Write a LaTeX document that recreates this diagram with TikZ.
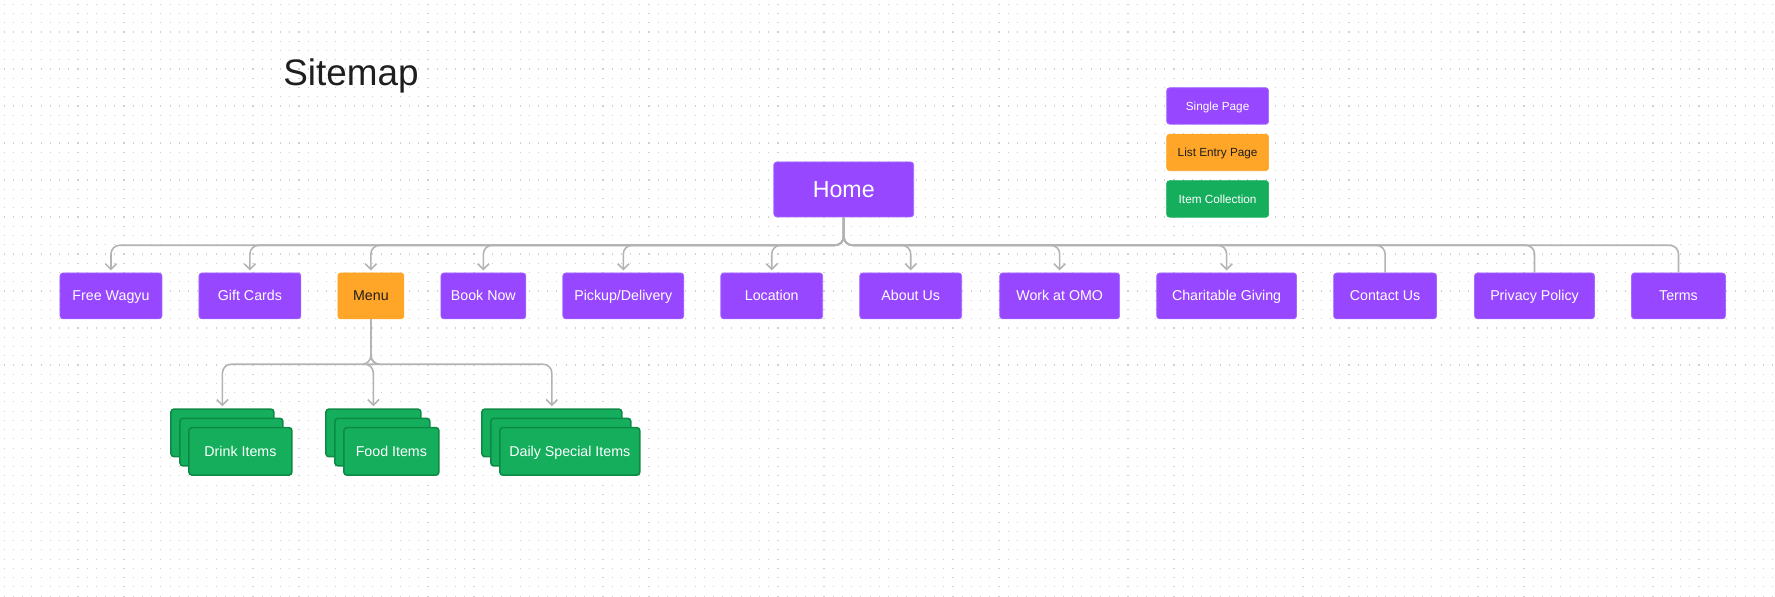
\documentclass[tikz,border=0pt]{standalone}
\usepackage{fontspec}
\setmainfont{Liberation Sans}
\usetikzlibrary{arrows.meta}
\definecolor{pagepurple}{HTML}{9747FF}
\definecolor{pageborder}{HTML}{A56AFF}
\definecolor{listorange}{HTML}{FFA629}
\definecolor{itemgreen}{HTML}{14AE5C}
\definecolor{itemborder}{HTML}{0D8A45}
\definecolor{wire}{HTML}{B3B3B3}
\definecolor{ink}{HTML}{1E1E1E}
\definecolor{griddot}{HTML}{D0D0D0}

\begin{document}
\begin{tikzpicture}[x=0.02cm,y=-0.02cm,
  box/.style={rectangle, rounded corners=1.7pt, inner sep=0pt, minimum height=0.92cm,
    font=\fontsize{8.1}{9.7}\selectfont, text height=5.8pt, text depth=0pt},
  single/.style={box, fill=pagepurple, draw=pageborder, line width=0.4pt, text=white},
  listentry/.style={box, fill=listorange, draw=listorange, line width=0.4pt, text=ink},
  item/.style={box, fill=itemgreen, draw=itemborder, line width=0.9pt, text=white,
    minimum height=0.95cm},
  legend/.style={minimum width=2.04cm, minimum height=0.73cm,
    font=\fontsize{6.7}{8}\selectfont, text height=4.8pt},
  rootbox/.style={single, minimum width=2.8cm, minimum height=1.1cm,
    font=\fontsize{13.2}{15}\selectfont, text height=9.45pt},
  wirepath/.style={draw=wire, line width=0.9pt, rounded corners=5pt},
  arrowed/.style={wirepath, -{Straight Barb[length=3.2pt,width=6.4pt]}, shorten >=1.2pt},
  dotrow/.style={draw=griddot, line width=0.65pt, dash pattern=on 0.62pt off 4.624pt}
]
% canvas with dotted grid
\fill[white] (0,0) rectangle (1775,597);
\foreach \r in {0,...,64}
  \draw[dotrow] (3.75,{4.3+9.25*\r}) -- (1775,{4.3+9.25*\r});
\useasboundingbox (0,0) rectangle (1775,597);

% title
\node[anchor=base west, inner sep=0pt, text=ink, font=\fontsize{21}{25}\selectfont]
  (title) at (283,86) {Sitemap};

% legend
\node[single, legend] (lsingle) at (1218,106) {Single Page};
\node[listentry, legend] (llist) at (1218,152.5) {List Entry Page};
\node[item, legend, draw=itemgreen, line width=0.4pt] (litem) at (1218,199) {Item Collection};

% root
\node[rootbox] (home) at (844,189.5) {Home};

% first level pages
\node[single, minimum width=2.04cm] (wagyu) at (111,296) {Free Wagyu};
\node[single, minimum width=2.04cm] (gift) at (250,296) {Gift Cards};
\node[listentry, minimum width=1.32cm] (menu) at (371,296) {Menu};
\node[single, minimum width=1.70cm] (book) at (483.5,296) {Book Now};
\node[single, minimum width=2.42cm] (pickup) at (623.5,296) {Pickup/Delivery};
\node[single, minimum width=2.04cm] (location) at (772,296) {Location};
\node[single, minimum width=2.04cm] (about) at (911,296) {About Us};
\node[single, minimum width=2.40cm] (work) at (1060,296) {Work at OMO};
\node[single, minimum width=2.80cm] (charity) at (1227,296) {Charitable Giving};
\node[single, minimum width=2.06cm] (contact) at (1385.5,296) {Contact Us};
\node[single, minimum width=2.40cm] (privacy) at (1535,296) {Privacy Policy};
\node[single, minimum width=1.88cm] (terms) at (1679,296) {Terms};

% item collections under the menu (stacked cards)
\node[item, minimum width=2.06cm] (drinkA) at (222.5,433) {};
\node[item, minimum width=2.06cm] (drinkB) at (231.5,442.25) {};
\node[item, minimum width=2.06cm] (drink) at (240.5,451.5) {Drink Items};
\node[item, minimum width=1.90cm] (foodA) at (373.5,433) {};
\node[item, minimum width=1.90cm] (foodB) at (382.5,442.25) {};
\node[item, minimum width=1.90cm] (food) at (391.5,451.5) {Food Items};
\node[item, minimum width=2.80cm] (dailyA) at (552,433) {};
\node[item, minimum width=2.80cm] (dailyB) at (561,442.25) {};
\node[item, minimum width=2.80cm] (daily) at (570,451.5) {Daily Special Items};

% connectors from the root
\foreach \c in {wagyu,gift,menu,book,pickup,location,about,work,charity}
  \draw[arrowed] (home.south) -- ++(0,28) -| (\c.north);
\foreach \c in {contact,privacy,terms}
  \draw[wirepath] (home.south) -- ++(0,28) -| (\c.north);

% connectors from the menu
\foreach \c in {drinkA,foodA,dailyA}
  \draw[arrowed] (menu.south) -- ++(0,45) -| (\c.north);
\end{tikzpicture}
\end{document}
